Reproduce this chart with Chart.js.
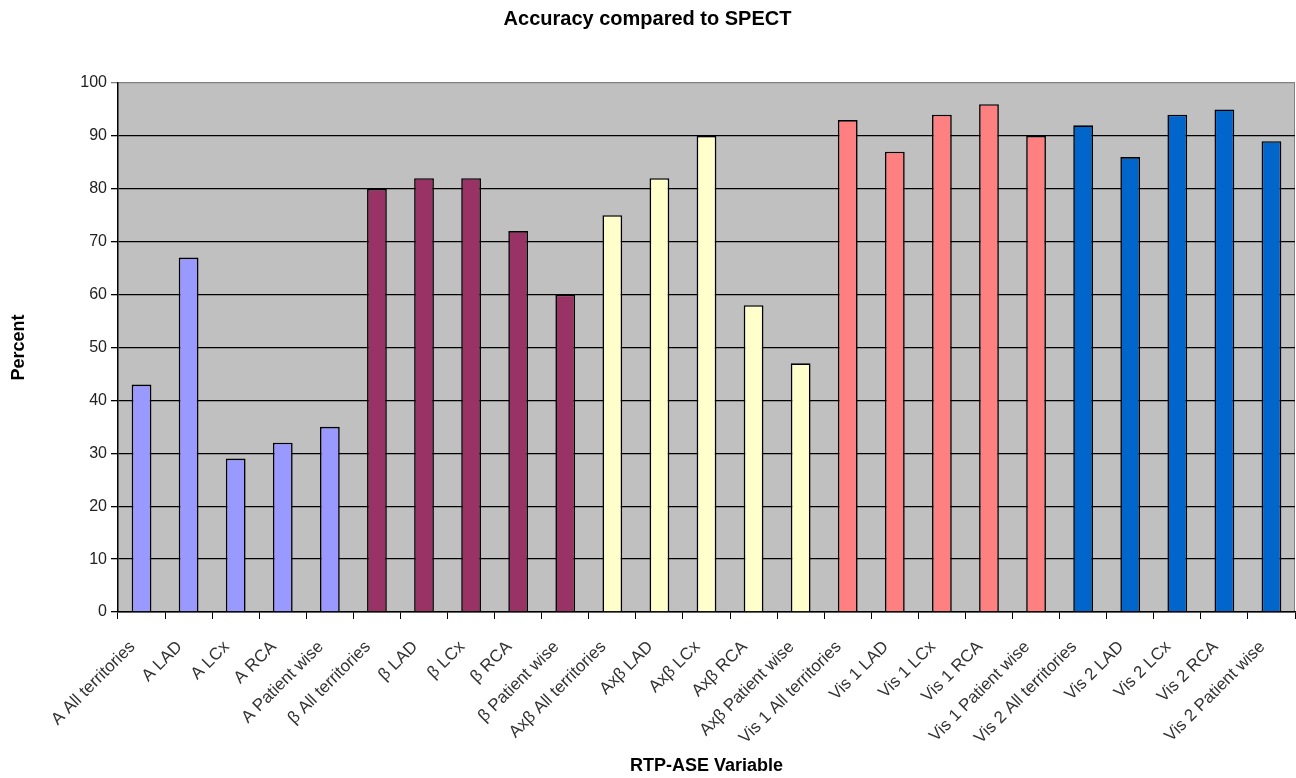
<!DOCTYPE html>
<html lang="en">
<head>
  <meta charset="UTF-8" />
  <title>Accuracy compared to SPECT</title>
  <script src="https://cdn.jsdelivr.net/npm/chart.js"></script>
  <style>
    body {
      margin: 0;
      background: #ffffff;
    }
    #wrap {
      width: 1296px;
      height: 778px;
    }
  </style>
</head>
<body>
  <div id="wrap"><canvas id="accChart" width="1296" height="778"></canvas></div>

  <script>
    const labels = [
      'A All territories', 'A LAD', 'A LCx', 'A RCA', 'A Patient wise',
      'β All territories', 'β LAD', 'β LCx', 'β RCA', 'β Patient wise',
      'Axβ All territories', 'Axβ LAD', 'Axβ LCx', 'Axβ RCA', 'Axβ Patient wise',
      'Vis 1 All territories', 'Vis 1 LAD', 'Vis 1 LCx', 'Vis 1 RCA', 'Vis 1 Patient wise',
      'Vis 2 All territories', 'Vis 2 LAD', 'Vis 2 LCx', 'Vis 2 RCA', 'Vis 2 Patient wise'
    ];
    const values = [
      43, 67, 29, 32, 35,
      80, 82, 82, 72, 60,
      75, 82, 90, 58, 47,
      93, 87, 94, 96, 90,
      92, 86, 94, 95, 89
    ];
    const groupColors = ['#9999ff', '#993366', '#ffffcc', '#ff8080', '#0066cc'];
    const barColors = values.map((_, i) => groupColors[Math.floor(i / 5)]);

    const FONT = 'Liberation Sans, Arial, sans-serif';

    // grey plot area like the old spreadsheet charts
    const plotBackground = {
      id: 'plotBackground',
      beforeDraw(chart) {
        const { ctx, chartArea: a } = chart;
        ctx.save();
        ctx.fillStyle = '#c0c0c0';
        ctx.fillRect(a.left, a.top, a.right - a.left, a.bottom - a.top);
        ctx.strokeStyle = '#808080';
        ctx.lineWidth = 1;
        ctx.beginPath();
        ctx.moveTo(a.right - 0.5, a.top);
        ctx.lineTo(a.right - 0.5, a.bottom);
        ctx.stroke();
        ctx.restore();
      }
    };

    const ctx = document.getElementById('accChart').getContext('2d');
    new Chart(ctx, {
      type: 'bar',
      data: {
        labels: labels,
        datasets: [{
          data: values,
          backgroundColor: barColors,
          borderColor: '#000000',
          borderWidth: 1.6,
          barPercentage: 0.42,
          categoryPercentage: 1.0
        }]
      },
      options: {
        responsive: false,
        animation: false,
        devicePixelRatio: 1,
        layout: { padding: { left: 0, right: 1, top: 7, bottom: 0 } },
        plugins: {
          legend: { display: false },
          tooltip: { enabled: false },
          title: {
            display: true,
            text: 'Accuracy compared to SPECT',
            color: '#000000',
            font: { family: FONT, size: 20, weight: 'bold' },
            padding: { top: 0, bottom: 52 }
          }
        },
        scales: {
          x: {
            afterFit(scale) {
              scale.height = 166;
              scale.paddingRight = 0;
              scale.paddingLeft = 0;
            },
            grid: {
              offset: true,
              drawOnChartArea: false,
              drawTicks: true,
              tickLength: 7,
              color: '#000000'
            },
            border: { color: '#000000', width: 1.5 },
            ticks: {
              maxRotation: 45,
              minRotation: 45,
              autoSkip: false,
              color: '#333333',
              padding: 18,
              labelOffset: -9,
              font: { family: FONT, size: 17 }
            },
            title: {
              display: true,
              text: 'RTP-ASE Variable',
              color: '#000000',
              font: { family: FONT, size: 18, weight: 'bold' },
              padding: { top: 0, bottom: 1 }
            }
          },
          y: {
            afterFit(scale) { scale.width = 118; },
            min: 0,
            max: 100,
            ticks: {
              stepSize: 10,
              color: '#222222',
              padding: 4,
              font: { family: FONT, size: 16 }
            },
            grid: {
              color: c => (c.tick && c.tick.value === 100) ? '#808080' : '#000000',
              lineWidth: 1.3,
              drawTicks: true,
              tickLength: 7
            },
            border: { color: '#000000', width: 1.5 },
            title: {
              display: true,
              text: 'Percent',
              color: '#000000',
              font: { family: FONT, size: 18, weight: 'bold' },
              padding: { top: 8, bottom: 0 }
            }
          }
        }
      },
      plugins: [plotBackground]
    });
  </script>
</body>
</html>
